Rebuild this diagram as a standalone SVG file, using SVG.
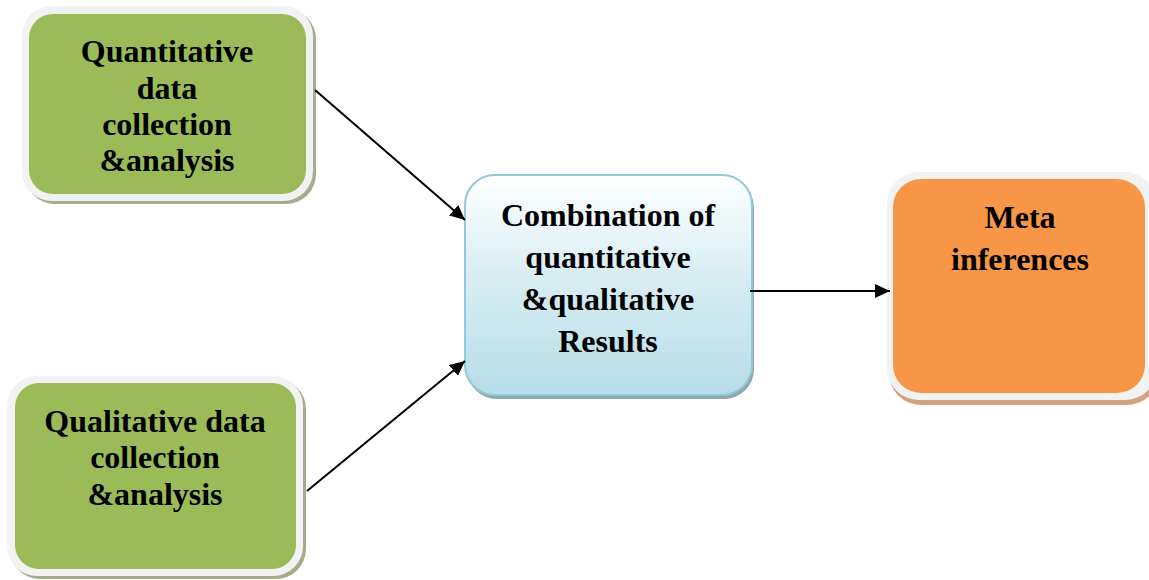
<svg xmlns="http://www.w3.org/2000/svg" width="1149" height="580" viewBox="0 0 1149 580">
  <defs>
    <linearGradient id="blueFill" x1="0" y1="0" x2="0" y2="1">
      <stop offset="0" stop-color="#ffffff"/>
      <stop offset="0.45" stop-color="#d8eef3"/>
      <stop offset="1" stop-color="#b6dde8"/>
    </linearGradient>
    <marker id="arrow" markerUnits="userSpaceOnUse" markerWidth="16" markerHeight="14" refX="15" refY="7" orient="auto">
      <path d="M0,0 L15,7 L0,14 z" fill="#000"/>
    </marker>
    <style>
      .frame { fill: #f2f2f2; }
      .green { fill: #9bbb59; }
      .greenShadow { fill: #a3ad8c; }
      .orange { fill: #f79646; }
      .orangeShadow { fill: #d2a283; }
      .label { font-family: "Liberation Serif", "Times New Roman", serif; font-weight: bold; font-size: 32px; fill: #000; text-anchor: middle; }
      .conn { stroke: #000; stroke-width: 2; fill: none; marker-end: url(#arrow); }
    </style>
  </defs>
  <rect width="1149" height="580" fill="#ffffff"/>

  <g id="quantitative">
    <rect class="greenShadow" x="25" y="9" width="291" height="195" rx="30"/>
    <rect class="frame" x="22" y="6" width="291" height="195" rx="30"/>
    <rect class="green" x="29" y="14" width="277" height="180" rx="24"/>
    <text class="label" x="167" y="62">Quantitative</text>
    <text class="label" x="167" y="99">data</text>
    <text class="label" x="167" y="135">collection</text>
    <text class="label" x="167" y="171">&amp;analysis</text>
  </g>

  <g id="qualitative">
    <rect class="greenShadow" x="10" y="379" width="296" height="200" rx="30"/>
    <rect class="frame" x="7" y="376" width="296" height="200" rx="30"/>
    <rect class="green" x="15" y="383" width="281" height="186" rx="24"/>
    <text class="label" x="155" y="432">Qualitative data</text>
    <text class="label" x="155" y="468">collection</text>
    <text class="label" x="155" y="505">&amp;analysis</text>
  </g>

  <g id="combination">
    <rect x="467" y="178" width="287" height="221" rx="30" fill="#8fa6ad"/>
    <rect x="465" y="175" width="287" height="220" rx="30" fill="url(#blueFill)" stroke="#92c9d8" stroke-width="2"/>
    <text class="label" x="608" y="226">Combination of</text>
    <text class="label" x="608" y="268">quantitative</text>
    <text class="label" x="608" y="310">&amp;qualitative</text>
    <text class="label" x="608" y="352">Results</text>
  </g>

  <g id="meta">
    <rect class="orangeShadow" x="889" y="177" width="270" height="228" rx="32"/>
    <rect class="frame" x="887" y="172" width="270" height="228" rx="32"/>
    <rect class="orange" x="893" y="179" width="252" height="214" rx="28"/>
    <text class="label" x="1020" y="228">Meta</text>
    <text class="label" x="1020" y="270">inferences</text>
  </g>

  <g id="connectors">
    <line class="conn" x1="315" y1="90" x2="465" y2="220"/>
    <line class="conn" x1="307" y1="491" x2="465" y2="361"/>
    <line class="conn" x1="750" y1="291" x2="890" y2="291"/>
  </g>
</svg>
